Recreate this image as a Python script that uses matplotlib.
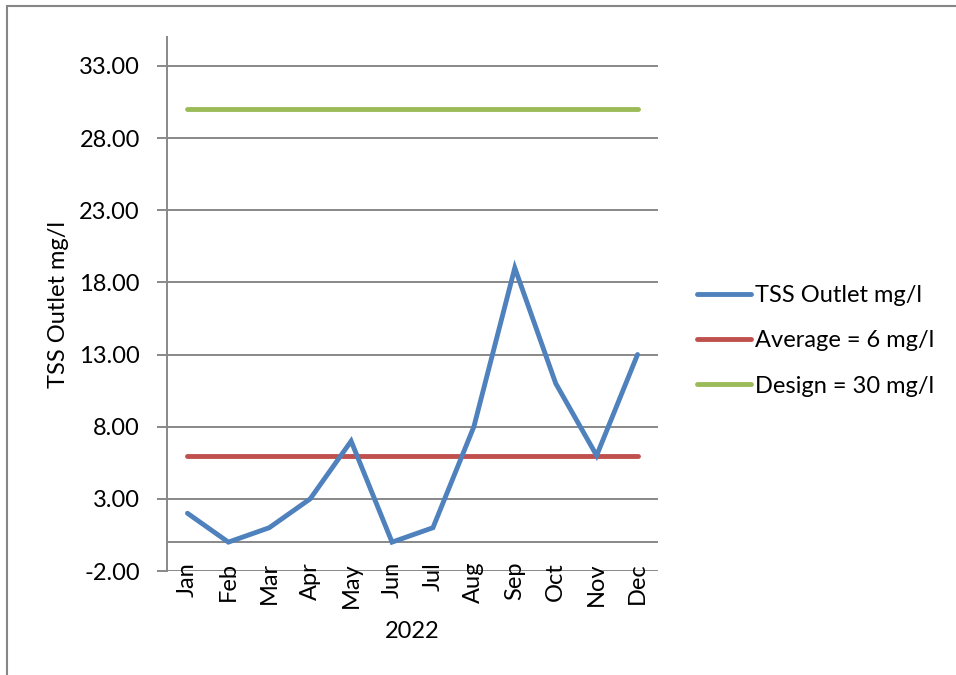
import numpy as np
import matplotlib
matplotlib.use('Agg')
import matplotlib.pyplot as plt
from matplotlib.patches import Rectangle

months = ['Jan', 'Feb', 'Mar', 'Apr', 'May', 'Jun', 'Jul', 'Aug', 'Sep', 'Oct', 'Nov', 'Dec']
tss_outlet = [2, 0, 1, 3, 7, 0, 1, 8, 19, 11, 6, 13]
average = [6] * 12
design = [30] * 12
y_ticks = [-2, 3, 8, 13, 18, 23, 28, 33]

plt.rcParams['font.family'] = ['Lato', 'DejaVu Sans']
fs = 17

fig = plt.figure(figsize=(9.56, 6.75), dpi=100)
ax = fig.add_axes([167 / 956, 1 - 571 / 675, 491 / 956, 534 / 675])

x = np.arange(len(months))
ax.plot(x, tss_outlet, color='#4F81BD', lw=3.5, solid_capstyle='round', solid_joinstyle='miter', label='TSS Outlet mg/l', zorder=4)
ax.plot(x, average, color='#C0504D', lw=3.5, solid_capstyle='round', label='Average = 6 mg/l', zorder=3)
ax.plot(x, design, color='#9BBB59', lw=3.5, solid_capstyle='round', label='Design = 30 mg/l', zorder=3)

ax.set_xlim(-0.5, 11.5)
ax.set_ylim(-2, 35)
ax.set_yticks(y_ticks)
ax.set_yticklabels(['%.2f' % v for v in y_ticks], fontsize=fs)
ax.set_xticks(x)
ax.set_xticklabels(months, rotation=90, fontsize=fs, va='top')

# gridlines and category axis at zero
for v in y_ticks:
    ax.axhline(v, color='#888888', lw=1.4, zorder=1)
ax.axhline(0, color='#888888', lw=1.4, zorder=1)

for s in ['top', 'right', 'bottom']:
    ax.spines[s].set_visible(False)
ax.spines['left'].set_color('#888888')
ax.spines['left'].set_linewidth(1.4)
ax.tick_params(axis='y', length=7, width=1.4, color='#888888', pad=12.5)
ax.tick_params(axis='x', length=0, pad=-6.5)

ax.set_ylabel('TSS Outlet mg/l', fontsize=fs, labelpad=7)
ax.set_xlabel('2022', fontsize=fs, labelpad=10)

fig.legend(loc='center left', bbox_to_anchor=(697 / 956, 1 - 341 / 675), frameon=False,
           fontsize=fs, handlelength=2.3, handletextpad=0.15, labelspacing=1.02,
           borderaxespad=0, borderpad=0)

# outer chart frame
fig.patches.append(Rectangle((7 / 956, -0.1), 1.2, 1 - 6 / 675 + 0.1, transform=fig.transFigure,
                             fill=False, edgecolor='#868686', lw=1.5))

fig.savefig('out.png', dpi=100)
